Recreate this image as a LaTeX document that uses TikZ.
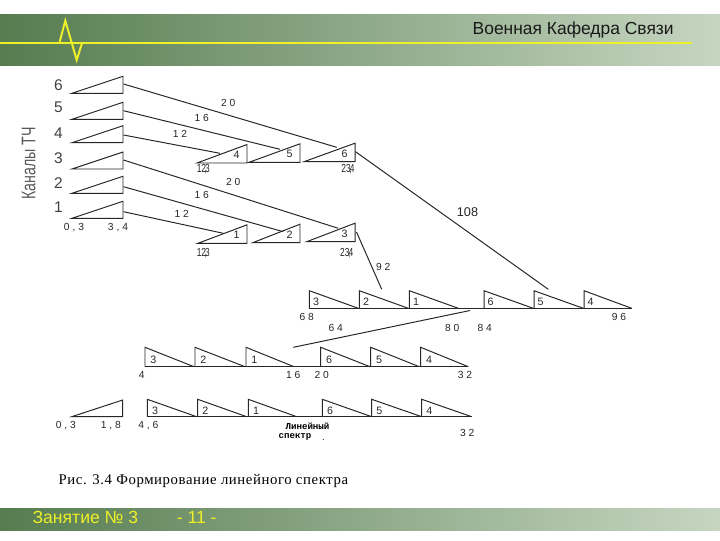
\documentclass[tikz,border=0pt]{standalone}
\usepackage{fontspec}
\setmainfont{Liberation Sans}
\newfontfamily\numfont[LetterSpace=28]{Liberation Sans}
\newfontfamily\narrowfont[FakeStretch=0.72]{Liberation Sans}
\newfontfamily\capfont[LetterSpace=4]{Liberation Serif}
\newfontfamily\specfont{Liberation Mono}
\definecolor{bandL}{RGB}{86,124,80}
\definecolor{bandR}{RGB}{198,214,193}
\definecolor{signal}{RGB}{238,240,40}

\begin{document}
\begin{tikzpicture}[x=0.025cm,y=-0.025cm,
    wire/.style={draw=black!85,line width=0.7pt},
    val/.style={font=\numfont\fontsize{7.3}{8}\selectfont,inner sep=0pt,text=black!85},
    tag/.style={font=\fontsize{7.6}{8}\selectfont,inner sep=0pt,text=black!85},
    freq/.style={font=\narrowfont\fontsize{8.3}{9}\selectfont,inner sep=0pt,text=black!85}]
    \useasboundingbox (0,0) rectangle (720,540);
    \shade[left color=bandL,right color=bandR] (0,14) rectangle (720,65);
    \shade[left color=bandL,right color=bandR] (0,508.3) rectangle (720,530.7);
    \draw[signal,line width=1.4pt] (0,43.3) -- (692,43.3);
    \draw[signal,line width=1.4pt] (59.3,43.3) -- (65.3,20.7) -- (76.7,60) -- (82,43.3);
    \node[anchor=base east,inner sep=0pt,font=\fontsize{12.4}{14}\selectfont,text=black!90] (title) at (674,34.3) {Военная Кафедра Связи};
    \node[anchor=base west,inner sep=0pt,font=\fontsize{12.5}{14}\selectfont,text=signal] (lesson) at (32.3,523.3) {Занятие № 3};
    \node[anchor=base,inner sep=0pt,font=\fontsize{12.5}{14}\selectfont,text=signal] (page) at (196.7,523.3) {- 11 -};

    \node[rotate=90,font=\narrowfont\fontsize{14}{15}\selectfont,text=black!65] (chans) at (28.8,163.3) {Каналы ТЧ};
    \foreach \n/\yb/\yn/\yc in {6/93.3/85/84,5/119.3/107.7/110.7,4/142.7/132.7/135,3/169/158.3/160,2/193.3/182.7/186.7,1/218.3/207.3/211.7}{
        \draw[wire] (72,\yb) -- (123,\yb-17) -- (123,\yb) -- cycle;
        \node[font=\fontsize{11}{12}\selectfont,text=black!75] (num\n) at (58.5,\yn) {\n};
        \coordinate (ch\n) at (123.5,\yc);
    }
    \node[val] (lo) at (74,227.5) {0,3};
    \node[val] (hi) at (118,227.5) {3,4};

    \foreach \n/\xl/\xr/\yb in {4/197/247/163,5/249/300/162.3,6/304/355/161.7,1/198/247/243.3,2/252.7/300/242.7,3/306.7/355/241.7}{
        \draw[wire] (\xl,\yb) -- (\xr,\yb-18.5) -- (\xr,\yb) -- cycle;
        \node[tag] (grp\n) at (\xr-10.3,\yb-8) {\n};
    }
    \node[freq] (f1) at (203.3,169.3) {12\kern-.12em,\kern-.16em3};
    \node[freq] (f2) at (348,169.3) {23\kern-.12em,\kern-.16em4};
    \node[freq] (f3) at (203.3,252.7) {12\kern-.12em,\kern-.16em3};
    \node[freq] (f4) at (346.7,252.7) {23\kern-.12em,\kern-.16em4};

    \coordinate (in6) at (336.7,147.3);
    \coordinate (in5) at (280,149.3);
    \coordinate (in4) at (220,153.3);
    \coordinate (in3) at (338.3,228.3);
    \coordinate (in2) at (283.3,231.7);
    \coordinate (in1) at (223.3,233.3);
    \foreach \n in {1,...,6}
        \draw[wire] (ch\n) -- (in\n);
    \node[val] (s6) at (228.3,103.3) {20};
    \node[val] (s5) at (201.7,117.6) {16};
    \node[val] (s4) at (180,134) {12};
    \node[val] (s3) at (233.3,181.7) {20};
    \node[val] (s2) at (201.7,195) {16};
    \node[val] (s1) at (181.7,214) {12};

    \coordinate (out6) at (355.5,151.7);
    \coordinate (to108) at (548.3,289.3);
    \coordinate (out3) at (356.5,232);
    \coordinate (to92) at (381.7,289.3);
    \draw[wire] (out6) -- (to108);
    \draw[wire] (out3) -- (to92);
    \node[font=\fontsize{9}{10}\selectfont,inner sep=0pt,text=black!85] (s108) at (467.5,212.5) {108};
    \node[val] (s92) at (383.3,266.7) {92};

    \draw[wire] (309.3,308.3) -- (631.7,308.3);
    \foreach \n/\xa/\xb in {3/309.3/358.3,2/359.3/408.3,1/409.3/458.3,6/484/533.3,5/534/583.3,4/584/631.7}{
        \draw[wire] (\xa,308.3) -- (\xa,290.7) -- (\xb,308.3);
        \node[tag] (mid\n) at (\xa+6.7,301.7) {\n};
    }
    \node[val] (m68) at (306.7,316.7) {68};
    \node[val] (m64) at (335.8,328.3) {64};
    \node[val] (m80) at (452.3,328.3) {80};
    \node[val] (m84) at (484.7,328.3) {84};
    \node[val] (m96) at (619,316.7) {96};
    \coordinate (gap) at (470,310.5);
    \coordinate (low) at (293.3,347.3);
    \draw[wire] (gap) -- (low);

    \draw[wire] (145,366.7) -- (468.3,366.7);
    \foreach \n/\xa/\xb in {3/145/194,2/195/245,1/246/294,6/320.7/370,5/370.7/419.3,4/420.7/468.3}{
        \draw[wire] (\xa,366.7) -- (\xa,347.3) -- (\xb,366.7);
        \node[tag] (row\n) at (\xa+8.3,360) {\n};
    }
    \node[val] (r4) at (141.7,375) {4};
    \node[val] (r16) at (293.3,375) {16};
    \node[val] (r20) at (321.7,375) {20};
    \node[val] (r32) at (465,375) {32};

    \draw[wire] (71.7,416.7) -- (122.7,400) -- (122.7,416.7) -- cycle;
    \draw[wire] (147.3,416.7) -- (471.7,416.7);
    \foreach \n/\xa/\xb in {3/147.3/196.7,2/197.7/246.7,1/248.3/296.7,6/322.3/371.7,5/371.7/421.7,4/421.7/471.7}{
        \draw[wire] (\xa,416.7) -- (\xa,399.3) -- (\xb,416.7);
        \node[tag] (lin\n) at (\xa+7.7,410.7) {\n};
    }
    \node[val] (b03) at (65.8,426) {0,3};
    \node[val] (b18) at (110.8,426) {1,8};
    \node[val] (b46) at (148.3,426) {4,6};
    \node[val] (b32) at (467.3,433) {32};
    \node[font=\specfont\bfseries\fontsize{6.5}{7}\selectfont,inner sep=0pt] (lin) at (307.5,426) {Линейный};
    \node[font=\specfont\bfseries\fontsize{6.5}{7}\selectfont,inner sep=0pt] (spec) at (295,436.5) {спектр};
    \node[font=\fontsize{6.5}{7}\selectfont,inner sep=0pt] (dot) at (323.3,440) {.};

    \node[anchor=base west,inner sep=0pt,font=\capfont\fontsize{10.5}{12}\selectfont] (caption) at (58.3,484) {Рис. 3.4 Формирование линейного спектра};
\end{tikzpicture}
\end{document}
